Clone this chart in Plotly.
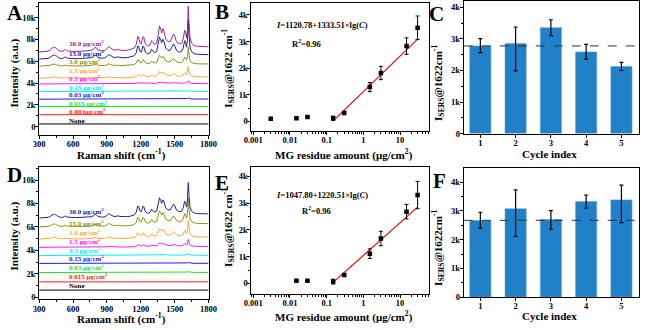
import numpy as np
import plotly.graph_objects as go

W, H = 650, 330

# ---------------- Panels A / D : SERS spectra ----------------
wavenumber = [300, 340, 380, 400, 415, 425, 435, 445, 455, 470, 490, 510, 525, 535, 550,
              580, 620, 660, 700, 730, 760, 780, 795, 805, 820, 850, 880, 900, 915, 930,
              945, 960, 985, 1000, 1015, 1040, 1080, 1110, 1140, 1160, 1172, 1180, 1192,
              1205, 1218, 1226, 1240, 1260, 1280, 1295, 1305, 1320, 1340, 1355, 1365, 1375,
              1385, 1395, 1405, 1420, 1440, 1460, 1478, 1490, 1500, 1515, 1540, 1560, 1575,
              1588, 1596, 1604, 1612, 1620, 1627, 1635, 1650, 1670, 1700, 1740, 1800]
# MG band profile above baseline, read from the 30.0 ug/cm2 curve of panel A (a.u.)
mg_profile = [0, 20, 80, 200, 400, 450, 380, 420, 300, 150, 80, 80, 200, 220, 100,
              60, 50, 60, 80, 100, 150, 250, 420, 400, 200, 100, 120, 300, 500, 400,
              250, 180, 200, 250, 180, 140, 160, 220, 350, 700, 1400, 1400, 850,
              750, 1400, 1350, 750, 550, 650, 1050, 950, 700, 800, 1600, 2400, 2100,
              1750, 2150, 1900, 1200, 950, 950, 1300, 1650, 1450, 950, 750, 800, 1200,
              2000, 1800, 1300, 2000, 4200, 2600, 1300, 800, 600, 520, 480, 480]

a_labels = ["None", "0.003μg/cm<sup>2</sup>", "0.015 μg/cm<sup>2</sup>", "0.03 μg/cm<sup>2</sup>",
            "0.15 μg/cm<sup>2</sup>", "0.3 μg/cm<sup>2</sup>", "1.5 μg/cm<sup>2</sup>",
            "3.0 μg/cm<sup>2</sup>", "15.0 μg/cm<sup>2</sup>", "30.0 μg/cm<sup>2</sup>"]
a_colors = ["#000000", "#FF1A1A", "#1AE61A", "#1A1AFF", "#00F0F0", "#FF1AFF",
            "#FFA832", "#8F8F14", "#202090", "#902A90"]
a_baseline = [250, 1100, 1850, 2520, 3220, 3920, 4450, 5550, 6200, 6850]
a_scale = [0.0, 0.01, 0.015, 0.03, 0.03, 0.07, 0.25, 0.42, 0.85, 1.0]
a_label_y = [540, 1410, 2160, 2910, 3630, 4410, 5160, 5950, 6670, 7630]

d_labels = ["None", "0.015 μg/cm<sup>2</sup>", "0.03 μg/cm<sup>2</sup>", "0.15 μg/cm<sup>2</sup>",
            "0.3 μg/cm<sup>2</sup>", "1.5 μg/cm<sup>2</sup>", "3.0 μg/cm<sup>2</sup>",
            "15.0 μg/cm<sup>2</sup>", "30.0 μg/cm<sup>2</sup>"]
d_colors = ["#000000", "#FF1A1A", "#1AE61A", "#1A1AFF", "#00F0F0", "#FF1AFF",
            "#FFA832", "#8F8F14", "#202090"]
d_baseline = [600, 1300, 2100, 2880, 3550, 4250, 4950, 6000, 6760]
d_scale = [0.0, 0.01, 0.02, 0.02, 0.04, 0.16, 0.38, 0.57, 0.72]
d_label_y = [920, 1730, 2510, 3300, 4000, 4750, 5530, 6280, 7320]

spec_ticks = [300, 600, 900, 1200, 1500, 1800]

# ---------------- Panels B / E : calibration ----------------
b_conc = [0.003, 0.015, 0.03, 0.15, 0.3, 1.5, 3.0, 15.0, 30.0]
b_int = [100, 125, 170, 120, 320, 1290, 1820, 2830, 3520]
b_err = [0, 0, 0, 80, 60, 170, 250, 310, 440]
b_fit = [1120.78, 1333.51]

e_conc = [0.015, 0.03, 0.15, 0.3, 1.5, 3.0, 15.0, 30.0]
e_int = [100, 100, 70, 320, 1110, 1680, 2680, 3300]
e_err = [0, 0, 90, 50, 180, 270, 270, 510]
e_fit = [1047.80, 1220.51]

fit_conc = [0.15, 30.0]
log_ticks = [0.001, 0.01, 0.1, 1, 10]
log_ticktext = ["0.001", "0.01", "0.1", "1", "10"]

# ---------------- Panels C / F : cycling ----------------
cycles = [1, 2, 3, 4, 5]
c_int = [2780, 2860, 3360, 2590, 2130]
c_err_plus = [230, 520, 250, 240, 130]
c_err_minus = [210, 870, 250, 230, 130]
c_ref = 2780

f_int = [2660, 3070, 2700, 3320, 3380]
f_err_plus = [290, 660, 310, 230, 510]
f_err_minus = [270, 960, 340, 230, 790]
f_ref = 2670

BAR_COLOR = "#2080C8"
FONT = "Liberation Serif"


def xd(l, r):
    return [l / W, r / W]


def yd(t, b):
    return [1 - b / H, 1 - t / H]


fig = go.Figure()

# spectra
for i in range(len(a_labels)):
    y = [a_baseline[i] + a_scale[i] * p for p in mg_profile]
    fig.add_trace(go.Scatter(x=wavenumber, y=y, mode="lines", xaxis="x", yaxis="y",
                             line=dict(color=a_colors[i], width=1), hoverinfo="skip"))
for i in range(len(d_labels)):
    y = [d_baseline[i] + d_scale[i] * p for p in mg_profile]
    fig.add_trace(go.Scatter(x=wavenumber, y=y, mode="lines", xaxis="x4", yaxis="y4",
                             line=dict(color=d_colors[i], width=1), hoverinfo="skip"))

# calibration
for conc, val, err, fit, xa, ya in [(b_conc, b_int, b_err, b_fit, "x2", "y2"),
                                    (e_conc, e_int, e_err, e_fit, "x5", "y5")]:
    fit_y = [fit[0] + fit[1] * np.log10(c) for c in fit_conc]
    fig.add_trace(go.Scatter(x=fit_conc, y=fit_y, mode="lines", xaxis=xa, yaxis=ya,
                             line=dict(color="#FF0000", width=1.2)))
    fig.add_trace(go.Scatter(x=conc, y=val, mode="markers", xaxis=xa, yaxis=ya,
                             marker=dict(color="black", size=4.5, symbol="square"),
                             error_y=dict(type="data", array=err, color="black",
                                          thickness=1, width=2)))

# cycling bars
for val, ep, em, xa, ya in [(c_int, c_err_plus, c_err_minus, "x3", "y3"),
                            (f_int, f_err_plus, f_err_minus, "x6", "y6")]:
    fig.add_trace(go.Bar(x=cycles, y=val, width=0.6, xaxis=xa, yaxis=ya,
                         marker=dict(color=BAR_COLOR, line=dict(color="#5AA2DA", width=0.6)),
                         error_y=dict(type="data", array=ep, arrayminus=em, symmetric=False,
                                      color="black", thickness=1.2, width=2)))

base_ax = dict(showline=True, linecolor="black", linewidth=1, mirror=True,
               ticks="outside", ticklen=3, tickwidth=1, tickcolor="black",
               showgrid=False, zeroline=False, ticklabelstandoff=-2,
               tickfont=dict(family=FONT, size=8.5, color="black", weight="bold"))

layout = dict(
    width=W, height=H, margin=dict(l=0, r=0, t=0, b=0),
    paper_bgcolor="white", plot_bgcolor="white", showlegend=False,
    font=dict(family=FONT, size=9, color="black", weight="bold"),
    bargap=0.4,
)

# A
layout["xaxis"] = dict(base_ax, domain=xd(32, 206), anchor="y", range=[300, 1800],
                       tickvals=spec_ticks,
                       minor=dict(ticks="outside", ticklen=2, dtick=150, tick0=300))
layout["yaxis"] = dict(base_ax, domain=yd(2, 136), anchor="x", range=[-720, 11350],
                       dtick=2000, tickformat="~s",
                       minor=dict(ticks="outside", ticklen=2, dtick=1000))
# D
layout["xaxis4"] = dict(base_ax, domain=xd(32, 206), anchor="y4", range=[300, 1800],
                        tickvals=spec_ticks,
                        minor=dict(ticks="outside", ticklen=2, dtick=150, tick0=300))
layout["yaxis4"] = dict(base_ax, domain=yd(169, 304), anchor="x4", range=[-200, 11120],
                        dtick=2000, tickformat="~s",
                        minor=dict(ticks="outside", ticklen=2, dtick=1000))
# B
layout["xaxis2"] = dict(base_ax, domain=xd(250, 432), anchor="y2", type="log",
                        range=[-3.05, 1.78], tickvals=log_ticks, ticktext=log_ticktext,
                        minor=dict(ticks="outside", ticklen=2, dtick="D1"))
layout["yaxis2"] = dict(base_ax, domain=yd(2, 132), anchor="x2", range=[-343, 4450],
                        dtick=1000, tickformat="~s",
                        minor=dict(ticks="outside", ticklen=2, dtick=500))
# E
layout["xaxis5"] = dict(base_ax, domain=xd(250, 432), anchor="y5", type="log",
                        range=[-3.05, 1.78], tickvals=log_ticks, ticktext=log_ticktext,
                        minor=dict(ticks="outside", ticklen=2, dtick="D1"))
layout["yaxis5"] = dict(base_ax, domain=yd(169, 298), anchor="x5", range=[-377, 4350],
                        dtick=1000, tickformat="~s",
                        minor=dict(ticks="outside", ticklen=2, dtick=500))
# C
layout["xaxis3"] = dict(base_ax, domain=xd(468, 648), anchor="y3", range=[0.53, 5.5],
                        tickvals=cycles)
layout["yaxis3"] = dict(base_ax, domain=yd(0.5, 135), anchor="x3", range=[0, 4190],
                        dtick=1000, tickformat="~s",
                        minor=dict(ticks="outside", ticklen=2, dtick=500))
# F
layout["xaxis6"] = dict(base_ax, domain=xd(468, 648), anchor="y6", range=[0.53, 5.5],
                        tickvals=cycles)
layout["yaxis6"] = dict(base_ax, domain=yd(170, 301.7), anchor="x6", range=[0, 4490],
                        dtick=1000, tickformat="~s",
                        minor=dict(ticks="outside", ticklen=2, dtick=500))

fig.update_layout(**layout)

# dashed reference lines
for ref, xa, ya in [(c_ref, "x3", "y3"), (f_ref, "x6", "y6")]:
    fig.add_shape(type="line", xref=f"{xa} domain", yref=ya, x0=0, x1=1, y0=ref, y1=ref,
                  line=dict(color="#333333", width=1, dash="dash"))

ann = []


def txt(text, x, y, size, color="black", angle=0, xanchor="center", xref="paper", yref="paper"):
    if xref == "paper":
        x = x / W
    if yref == "paper":
        y = 1 - y / H
    ann.append(dict(text=text, x=x, y=y, xref=xref, yref=yref, showarrow=False,
                    textangle=angle, xanchor=xanchor, yanchor="middle",
                    font=dict(family=FONT, size=size, color=color, weight="bold")))


# panel letters
for letter, x, y in [("A", 7, 12), ("B", 220, 11), ("C", 440, 13),
                     ("D", 7, 177), ("E", 220, 185), ("F", 443, 183)]:
    txt(letter, x, y, 21)

# axis titles
TS = 11
txt("Raman shift (cm<sup>-1</sup>)", 117, 156, TS)
txt("Raman shift (cm<sup>-1</sup>)", 117, 323, TS)
txt("Intensity (a.u.)", 7, 73, TS, angle=-90)
txt("Intensity (a.u.)", 7, 239, TS, angle=-90)
txt("MG residue amount (μg/cm<sup>2</sup>)", 345, 156, TS)
txt("MG residue amount (μg/cm<sup>2</sup>)", 345, 321, TS)
txt("I<sub>SERS</sub>@1622 cm<sup>-1</sup>", 226, 69, TS, angle=-90)
txt("I<sub>SERS</sub>@1622 cm<sup>-1</sup>", 226, 231, TS, angle=-90)
txt("Cycle index", 556, 156, TS)
txt("Cycle index", 556, 321, TS)
txt("I<sub>SERS</sub>@1622cm<sup>-1</sup>", 442, 83, TS, angle=-90)
txt("I<sub>SERS</sub>@1622cm<sup>-1</sup>", 442, 251, TS, angle=-90)

# equations
txt("<i>I</i>=1120.78+1333.51×lg(<i>C</i>)", 322, 24, 8.5)
txt("R<sup>2</sup>=0.96", 307, 43, 8.5)
txt("<i>I</i>=1047.80+1220.51×lg(<i>C</i>)", 322, 198, 8.5)
txt("R<sup>2</sup>=0.96", 317, 213, 8.5)

# spectrum labels
for i in range(len(a_labels)):
    txt(a_labels[i], 548, a_label_y[i], 7, color=a_colors[i], xanchor="left", xref="x", yref="y")
for i in range(len(d_labels)):
    txt(d_labels[i], 548, d_label_y[i], 7, color=d_colors[i], xanchor="left", xref="x4", yref="y4")

fig.update_layout(annotations=ann)

fig.write_html("out.html")
